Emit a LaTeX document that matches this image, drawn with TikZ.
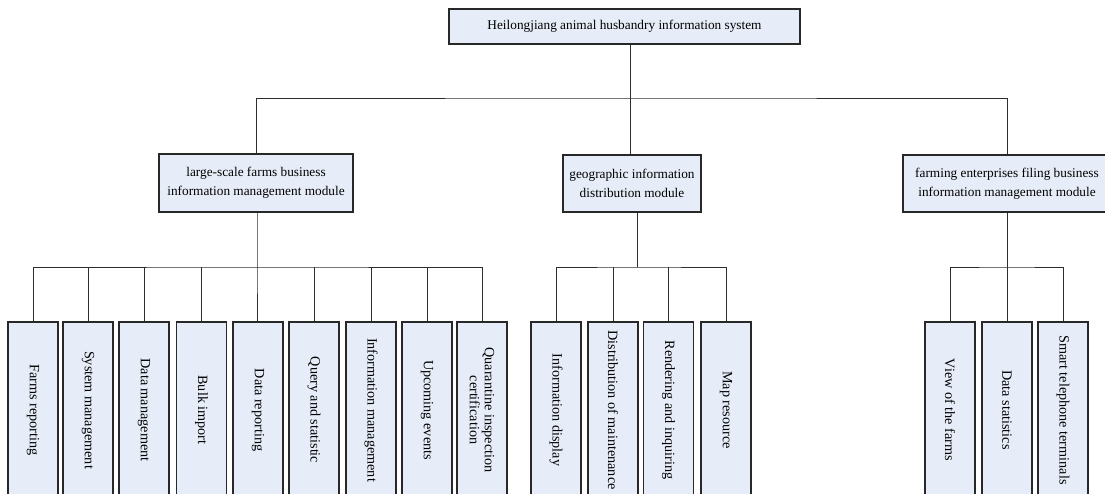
\documentclass[tikz,border=0pt]{standalone}
\usepackage{fontspec}
\setmainfont{Liberation Serif}
\definecolor{boxfill}{RGB}{231,237,248}
\definecolor{boxline}{RGB}{40,40,40}
\definecolor{conn}{RGB}{45,45,45}
\begin{document}
\begin{tikzpicture}[x=1pt,y=-1pt,
  box/.style={draw=boxline,fill=boxfill,line width=1.3pt,rectangle,inner sep=0pt,align=center,
    font=\fontsize{13.3}{19}\selectfont},
  leafbox/.style={box,minimum width=176pt,minimum height=50pt,rotate=-90,
    font=\fontsize{14.2}{15}\selectfont},
  link/.style={draw=conn,line width=0.9pt}]
\useasboundingbox (0,0) rectangle (1105,494);
% top
\node[box,minimum width=351pt,minimum height=35pt] (top) at (624.5,26.5) {Heilongjiang animal husbandry information system};
% modules
\node[box,minimum width=194pt,minimum height=58pt] (m1) at (256,183) {large-scale farms business\\information management module};
\node[box,minimum width=138pt,minimum height=57pt] (m2) at (632,183.5) {geographic information\\distribution module};
\node[box,minimum width=208pt,minimum height=57pt] (m3) at (1007,183.5) {farming enterprises filing business\\information management module};
% leaves (rotated clockwise: west anchor is the top edge)
\node[leafbox] (a1) at (33,410) {Farms reporting};
\node[leafbox] (a2) at (88,410) {System management};
\node[leafbox] (a3) at (144,410) {Data management};
\node[leafbox] (a4) at (201.5,410) {Bulk import};
\node[leafbox] (a5) at (258,410) {Data reporting};
\node[leafbox] (a6) at (314,410) {Query and statistic};
\node[leafbox] (a7) at (371,410) {Information management};
\node[leafbox] (a8) at (427,410) {Upcoming events};
\node[leafbox] (a9) at (482,410) {Quarantine inspection\\certification};
\node[leafbox] (b1) at (556,410) {Information display};
\node[leafbox] (b2) at (613,410) {Distribution of maintenance};
\node[leafbox] (b3) at (668.5,410) {Rendering and inquiring};
\node[leafbox] (b4) at (726,410) {Map resource};
\node[leafbox] (c1) at (950,410) {View of the farms};
\node[leafbox] (c2) at (1007,410) {Data statistics};
\node[leafbox] (c3) at (1063,410) {Smart telephone terminals};
% junctions
\coordinate (j0) at (630,98);
\coordinate (ja) at (257,267);
\coordinate (jb) at (637,267);
\coordinate (jc) at (1007,267);
% top level connectors
\draw[link] ([xshift=5.5pt]top.south) -- (j0);
\draw[link] (m1.north) |- (j0) -| (m3.north);
\draw[link] (j0) -- (m2.north -| j0);
% group a
\draw[link] (m1.south -| ja) -- (ja) -- (ja |- a5.west);
\draw[link] (a1.west) |- (ja) -| (a9.west);
\foreach \n in {a2,a3,a4,a6,a7,a8} \draw[link] (\n.west) -- (\n.west |- ja);
% group b
\draw[link] (m2.south -| jb) -- (jb);
\draw[link] (b1.west) |- (jb) -| (b4.west);
\foreach \n in {b2,b3} \draw[link] (\n.west) -- (\n.west |- jb);
% group c
\draw[link] (m3.south) -- (jc) -- (c2.west);
\draw[link] (c1.west) |- (jc) -| (c3.west);
\end{tikzpicture}
\end{document}
